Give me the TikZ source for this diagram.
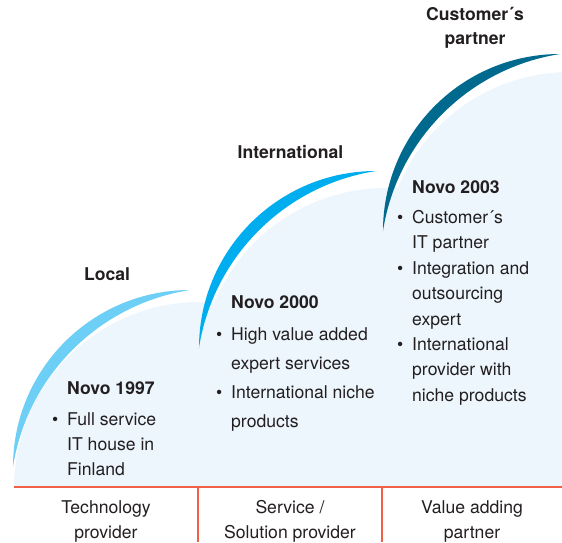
\documentclass[tikz,border=0pt]{standalone}
\usepackage{fontspec}
\setmainfont{TeX Gyre Heros}
\usepackage{tikz}
\usetikzlibrary{positioning}

\definecolor{fillpale}{RGB}{237,246,253}
\definecolor{arcone}{RGB}{109,207,246}
\definecolor{arctwo}{RGB}{0,174,239}
\definecolor{arcthree}{RGB}{0,106,142}
\definecolor{rulered}{RGB}{240,96,72}
\definecolor{inkgray}{RGB}{35,31,32}

\begin{document}
\begin{tikzpicture}[
    x=1pt, y=1pt,
    txt/.style={
        inner sep=0pt, text=inkgray,
        font=\fontsize{17.6}{25}\selectfont
    },
    stage/.style={txt, anchor=base, font=\fontsize{17.6}{24}\selectfont\bfseries},
    list/.style={txt, anchor=base west},
    spread/.style={list, font=\fontsize{17.6}{29}\selectfont},
    dense/.style={list, font=\fontsize{17.6}{25.4}\selectfont},
    role/.style={txt, anchor=base},
    rule/.style={draw=rulered, line width=1.2pt}
]

\useasboundingbox (0,0) rectangle (562,542);
\clip (0,0) rectangle (562,542);

% pale stepped background
\fill[fillpale] (14,55) -- (14,54) arc[start angle=180, end angle=90, radius=186]
    -- (214.5,240) arc[start angle=157.23, end angle=90, radius=186]
    -- (397.7,354) arc[start angle=157.9, end angle=90, radius=186]
    -- (570,55) -- cycle;

% crescents
\foreach \bx/\by/\col in {13/75/arcone, 199/194/arctwo, 383/311/arcthree}
    \fill[\col] (\bx,\by) arc[start angle=180, end angle=90, radius=177]
        arc[start angle=98.9, end angle=171.1, radius=212.5] -- cycle;

% base line and column dividers
\draw[rule] (14,55) -- (562,55);
\draw[rule] (198,55) -- (198,0);
\draw[rule] (382,55) -- (382,0);

% stage titles
\node[stage] (local) at (107,262) {Local};
\node[stage] (intl) at (290.5,384) {International};
\node[stage] (custpartner) at (475,521) {\begin{tabular}[t]{@{}c@{}}Customer´s\\partner\end{tabular}};

% company steps
\node[list] (novo97) at (67,148) {\begin{tabular}[t]{@{}l@{}}
    \textbf{Novo 1997}\\[6pt]
    \llap{\textbullet\hspace{9pt}}Full service\\
    IT house in\\
    Finland
\end{tabular}};
\node[spread] (novo00) at (231,234) {\begin{tabular}[t]{@{}l@{}}
    \textbf{Novo 2000}\\[3pt]
    \llap{\textbullet\hspace{9pt}}High value added\\
    expert services\\
    \llap{\textbullet\hspace{9pt}}International niche\\
    products
\end{tabular}};
\node[dense] (novo03) at (412,349) {\begin{tabular}[t]{@{}l@{}}
    \textbf{Novo 2003}\\[5pt]
    \llap{\textbullet\hspace{9pt}}Customer´s\\
    IT partner\\
    \llap{\textbullet\hspace{9pt}}Integration and\\
    outsourcing\\
    expert\\
    \llap{\textbullet\hspace{9pt}}International\\
    provider with\\
    niche products
\end{tabular}};

% roles under the line
\node[role] (tech) at (106,29) {\begin{tabular}[t]{@{}c@{}}Technology\\provider\end{tabular}};
\node[role] (service) at (290,29) {\begin{tabular}[t]{@{}c@{}}Service /\\Solution provider\end{tabular}};
\node[role] (valueadd) at (472,29) {\begin{tabular}[t]{@{}c@{}}Value adding\\partner\end{tabular}};

\end{tikzpicture}
\end{document}
